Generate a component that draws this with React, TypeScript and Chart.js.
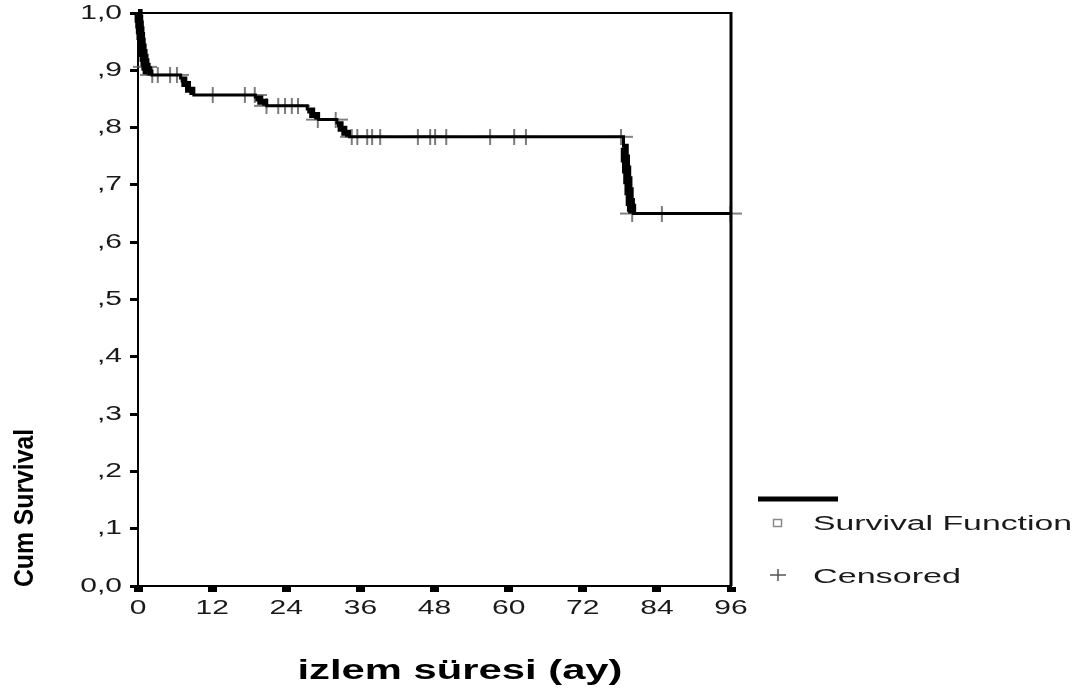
import React, { useEffect, useRef } from "react";
import { Chart, registerables } from "chart.js";

Chart.register(...registerables);

// Kaplan-Meier estimate: time (months) at which each step happens and the survival after it
const eventTimes = [0, 0.1, 0.2, 0.3, 0.4, 0.5, 0.6, 0.75, 0.9, 1.05, 1.2, 1.4, 1.6, 2.0, 6.9, 7.5, 8.1, 8.8, 19.0, 19.8, 20.6, 27.4, 28.2, 29.0, 32.2, 32.8, 33.4, 34.0, 78.6, 78.8, 79.0, 79.2, 79.4, 79.6, 79.8, 80.0, 96];
const survival = [1.0, 0.99, 0.98, 0.97, 0.96, 0.95, 0.94, 0.93, 0.922, 0.914, 0.906, 0.9, 0.896, 0.892, 0.884, 0.876, 0.866, 0.857, 0.851, 0.845, 0.838, 0.83, 0.822, 0.814, 0.806, 0.798, 0.791, 0.784, 0.765, 0.746, 0.727, 0.708, 0.689, 0.67, 0.66, 0.65, 0.65];

// Censored observations
const censorTimes = [1.2, 2.3, 3.2, 5.2, 6.3, 12.1, 17.3, 18.9, 20.8, 22.7, 23.8, 24.9, 25.9, 29.1, 32.0, 34.6, 35.5, 37.1, 37.9, 39.2, 45.3, 47.3, 48.1, 49.9, 57.0, 60.9, 62.8, 78.2, 80.0, 84.8, 95.9];
const censorSurvival = [0.906, 0.892, 0.892, 0.892, 0.892, 0.857, 0.857, 0.857, 0.838, 0.838, 0.838, 0.838, 0.838, 0.814, 0.814, 0.784, 0.784, 0.784, 0.784, 0.784, 0.784, 0.784, 0.784, 0.784, 0.784, 0.784, 0.784, 0.784, 0.65, 0.65, 0.65];

const xTicks = [0, 12, 24, 36, 48, 60, 72, 84, 96];
const yTickLabels = ["0,0", ",1", ",2", ",3", ",4", ",5", ",6", ",7", ",8", ",9", "1,0"];

const xTitle = "izlem süresi (ay)";
const yTitle = "Cum Survival";
const legendLabels = ["Survival Function", "Censored"];

const FONT = "'Liberation Sans', Arial, sans-serif";
const STRETCH = 1.5;

function makeCross(w: number, h: number, color: string) {
  const c = document.createElement("canvas");
  c.width = w;
  c.height = h;
  const g = c.getContext("2d")!;
  g.strokeStyle = color;
  g.lineWidth = 1.6;
  g.beginPath();
  g.moveTo(0, h / 2);
  g.lineTo(w, h / 2);
  g.moveTo(w / 2, 0);
  g.lineTo(w / 2, h);
  g.stroke();
  return c;
}

function fitText(ctx: CanvasRenderingContext2D, text: string, x: number, y: number, width: number, align: CanvasTextAlign) {
  const w = ctx.measureText(text).width;
  ctx.save();
  ctx.translate(x, y);
  ctx.scale(width / w, 1);
  ctx.textAlign = align;
  ctx.fillText(text, 0, 0);
  ctx.restore();
}

function stretchText(ctx: CanvasRenderingContext2D, text: string, x: number, y: number, align: CanvasTextAlign) {
  ctx.save();
  ctx.translate(x, y);
  ctx.scale(STRETCH, 1);
  ctx.textAlign = align;
  ctx.fillText(text, 0, 0);
  ctx.restore();
}

const decorations = {
  id: "decorations",
  afterDraw(chart: any) {
    const { ctx, chartArea, scales } = chart;
    const { left, right, top, bottom } = chartArea;
    ctx.save();

    // frame
    ctx.strokeStyle = "#000";
    ctx.lineWidth = 2;
    ctx.beginPath();
    ctx.moveTo(left, top);
    ctx.lineTo(right, top);
    ctx.stroke();
    ctx.lineWidth = 3;
    ctx.beginPath();
    ctx.moveTo(right, top - 1);
    ctx.lineTo(right, bottom);
    ctx.stroke();

    // tick labels
    ctx.fillStyle = "#1a1a1a";
    ctx.font = `20px ${FONT}`;
    ctx.textBaseline = "middle";
    scales.y.ticks.forEach((t: any, i: number) => {
      const py = scales.y.getPixelForValue(t.value);
      stretchText(ctx, yTickLabels[i] ?? "", left - 16, py, "right");
    });
    scales.x.ticks.forEach((t: any) => {
      const px = scales.x.getPixelForValue(t.value);
      stretchText(ctx, String(t.value), px, bottom + 22, "center");
    });

    // axis titles
    ctx.fillStyle = "#000";
    ctx.font = `bold 28px ${FONT}`;
    ctx.textBaseline = "alphabetic";
    fitText(ctx, xTitle, 460, 679, 325, "center");

    ctx.save();
    ctx.translate(33, 508);
    ctx.rotate(-Math.PI / 2);
    ctx.font = `bold 27px ${FONT}`;
    fitText(ctx, yTitle, 0, 0, 158, "center");
    ctx.restore();

    // legend
    ctx.strokeStyle = "#000";
    ctx.lineWidth = 5;
    ctx.beginPath();
    ctx.moveTo(758, 499);
    ctx.lineTo(838, 499);
    ctx.stroke();

    ctx.strokeStyle = "#8a8a8a";
    ctx.lineWidth = 1.5;
    ctx.strokeRect(773.5, 519.5, 8, 7);

    ctx.strokeStyle = "#555";
    ctx.lineWidth = 1.5;
    ctx.beginPath();
    ctx.moveTo(770, 575);
    ctx.lineTo(786, 575);
    ctx.moveTo(778, 569);
    ctx.lineTo(778, 581);
    ctx.stroke();

    ctx.fillStyle = "#1a1a1a";
    ctx.font = `20px ${FONT}`;
    ctx.textBaseline = "middle";
    fitText(ctx, legendLabels[0], 813, 524, 259, "left");
    fitText(ctx, legendLabels[1], 813, 577, 148, "left");

    ctx.restore();
  },
};

export default function App() {
  const canvasRef = useRef<HTMLCanvasElement | null>(null);

  useEffect(() => {
    if (!canvasRef.current) return;
    const cross = makeCross(24, 16, "#5a5a5a");
    const chart = new Chart(canvasRef.current, {
      type: "scatter",
      data: {
        datasets: [
          {
            label: legendLabels[0],
            data: eventTimes.map((t, i) => ({ x: t, y: survival[i] })),
            showLine: true,
            stepped: true,
            borderColor: "#000",
            borderWidth: 3,
            borderJoinStyle: "miter",
            pointRadius: 0,
            clip: false,
            // clustered deaths are drawn as a heavier stroke
            segment: {
              borderWidth: (c: any) => {
                const dx = c.p1.parsed.x - c.p0.parsed.x;
                return dx <= 0.25 ? 8 : dx < 1 ? 6 : 3;
              },
            },
          } as any,
          {
            label: legendLabels[1],
            data: censorTimes.map((t, i) => ({ x: t, y: censorSurvival[i] })),
            showLine: false,
            pointStyle: cross as any,
            pointRadius: 8,
            clip: false,
          },
        ],
      },
      options: {
        animation: false,
        responsive: true,
        maintainAspectRatio: false,
        devicePixelRatio: 1,
        layout: { padding: { left: 0, top: 13, right: 348, bottom: 0 } },
        plugins: { legend: { display: false }, tooltip: { enabled: false } },
        scales: {
          x: {
            type: "linear",
            min: 0,
            max: 96,
            afterBuildTicks: (s: any) => {
              s.ticks = xTicks.map((v) => ({ value: v }));
            },
            ticks: { display: false },
            grid: { drawOnChartArea: false, drawTicks: true, tickLength: 6, tickWidth: 9, tickColor: "#000" },
            border: { color: "#000", width: 2 },
            afterFit: (s: any) => {
              s.height = 110;
            },
          },
          y: {
            type: "linear",
            min: 0,
            max: 1,
            ticks: { display: false, stepSize: 0.1 },
            grid: { drawOnChartArea: false, drawTicks: true, tickLength: 8, tickWidth: 3, tickColor: "#000" },
            border: { color: "#000", width: 2 },
            afterFit: (s: any) => {
              s.width = 138;
            },
          },
        },
      },
      plugins: [decorations],
    });
    return () => chart.destroy();
  }, []);

  return (
    <div style={{ position: "absolute", left: 0, top: 0, width: 1079, height: 696, background: "#fff" }}>
      <canvas ref={canvasRef} />
    </div>
  );
}
